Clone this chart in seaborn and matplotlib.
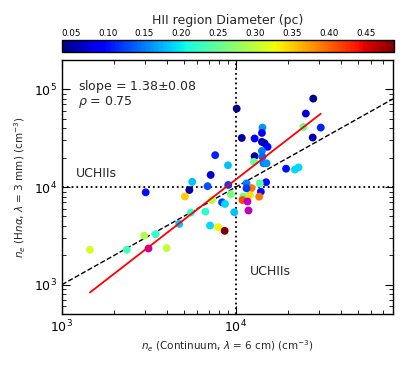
import numpy as np
import pandas as pd
import matplotlib
matplotlib.use("Agg")
import matplotlib.pyplot as plt
import seaborn as sns

# electron densities (cm^-3) and HII region diameters (pc)
ne_cont = [10100, 10800, 7600, 9000, 7160, 5610, 6870, 5400, 3030, 5090,
           9030, 27800, 25200, 24400, 30700, 27600, 14200, 14100, 12800, 14100,
           14600, 15200, 14100, 12800, 12700, 14200, 14400, 15000, 19400, 21800,
           22900, 14900, 13700, 11500, 12300, 13900, 9350, 11000, 12000, 13600,
           10900, 7280, 8320, 8650, 6680, 5510, 9780, 4720, 7100, 7890,
           8610, 2970, 3460, 4000, 2360, 1450, 11500]
ne_rrl = [63500, 31800, 21200, 16700, 13300, 11300, 10200, 9320, 8830, 8000,
          10500, 80400, 56500, 41200, 40600, 32100, 40600, 35800, 31400, 29000,
          28100, 25800, 23400, 20700, 18100, 20400, 17500, 17500, 15400, 15100,
          15900, 11200, 10900, 10900, 9770, 8960, 8450, 8000, 8280, 7960,
          7360, 7360, 6980, 6710, 5600, 5470, 5520, 4190, 4030, 3880,
          3560, 3180, 3290, 2370, 2280, 2280, 9700]
diameter = [0.045, 0.05, 0.11, 0.18, 0.07, 0.18, 0.13, 0.05, 0.10, 0.35,
            0.12, 0.045, 0.07, 0.25, 0.11, 0.06, 0.16, 0.09, 0.09, 0.06,
            0.06, 0.09, 0.15, 0.05, 0.25, 0.14, 0.15, 0.16, 0.10, 0.19,
            0.19, 0.10, 0.24, 0.15, 0.39, 0.10, 0.26, 0.26, 0.34, 0.39,
            0.41, 0.29, 0.12, 0.19, 0.22, 0.22, 0.18, 0.18, 0.19, 0.33,
            0.488, 0.29, 0.22, 0.30, 0.23, 0.31, 0.12]

# sources without a diameter (drawn in magenta)
ne_cont_nod = [11500, 11800, 3130]
ne_rrl_nod = [7250, 5830, 2370]

fit_slope = 1.38
fit_intercept = -1.442
d_min, d_max = 0.038, 0.488

df = pd.DataFrame({"cont": ne_cont, "rrl": ne_rrl, "diam": diameter})
jet = matplotlib.colormaps["jet"]

sns.set_style("ticks")
plt.rcParams.update({
    "xtick.direction": "in", "ytick.direction": "in",
    "xtick.top": True, "ytick.right": True,
    "xtick.color": "black", "ytick.color": "black",
    "axes.edgecolor": "black", "axes.linewidth": 1.0,
})

fig = plt.figure(figsize=(4.07, 3.70), dpi=100)
ax = fig.add_axes([0.152, 0.151, 0.814, 0.687])
cax = fig.add_axes([0.152, 0.859, 0.816, 0.032])

ax.set_xscale("log")
ax.set_yscale("log")
ax.set_xlim(1e3, 8e4)
ax.set_ylim(500, 2e5)

# 1:1 line
xs = np.array(ax.get_xlim())
ax.plot(xs, xs, "k--", lw=1, zorder=1)
ax.axvline(1e4, color="k", ls=":", lw=1.3, zorder=1)
ax.axhline(1e4, color="k", ls=":", lw=1.3, zorder=1)

sns.scatterplot(data=df, x="cont", y="rrl", hue="diam", palette=jet,
                hue_norm=(d_min, d_max), s=32, linewidth=0, legend=False,
                ax=ax, zorder=3)
sns.scatterplot(x=ne_cont_nod, y=ne_rrl_nod, color="m", s=32, linewidth=0,
                ax=ax, zorder=3)

# power-law fit over the data range
xf = np.array([min(ne_cont), max(ne_cont)])
ax.plot(xf, 10 ** (fit_intercept + fit_slope * np.log10(xf)), color="red",
        lw=1.3, zorder=4)

ax.text(0.048, 0.93, "slope = 1.38$\\pm$0.08\n$\\rho$ = 0.75",
        transform=ax.transAxes, va="top", ha="left", fontsize=9,
        linespacing=0.95)
ax.text(1.2e3, 1.17e4, "UCHIIs", fontsize=9, va="bottom", ha="left")
ax.text(1.2e4, 1.18e3, "UCHIIs", fontsize=9, va="bottom", ha="left")

ax.set_xlabel("$n_e$ (Continuum, $\\lambda$ = 6 cm) (cm$^{-3}$)", fontsize=7.5,
              labelpad=3)
ax.set_ylabel("$n_e$ (H$n\\alpha$, $\\lambda$ = 3 mm) (cm$^{-3}$)", fontsize=7.5)
ax.tick_params(which="major", length=6, width=0.8, labelsize=9)
ax.tick_params(which="minor", length=3, width=0.6)
ax.tick_params(axis="x", pad=3)

sm = plt.cm.ScalarMappable(cmap=jet, norm=plt.Normalize(d_min, d_max))
cb = fig.colorbar(sm, cax=cax, orientation="horizontal")
cb.set_ticks(np.arange(0.05, 0.46, 0.05))
cb.outline.set_edgecolor("black")
cax.xaxis.set_ticks_position("top")
cax.xaxis.set_label_position("top")
cax.tick_params(direction="in", length=4, labelsize=6.3, pad=2)
cax.minorticks_off()
cax.set_xlabel("HII region Diameter (pc)", fontsize=9, labelpad=3)

fig.savefig("out.png", dpi=100)
